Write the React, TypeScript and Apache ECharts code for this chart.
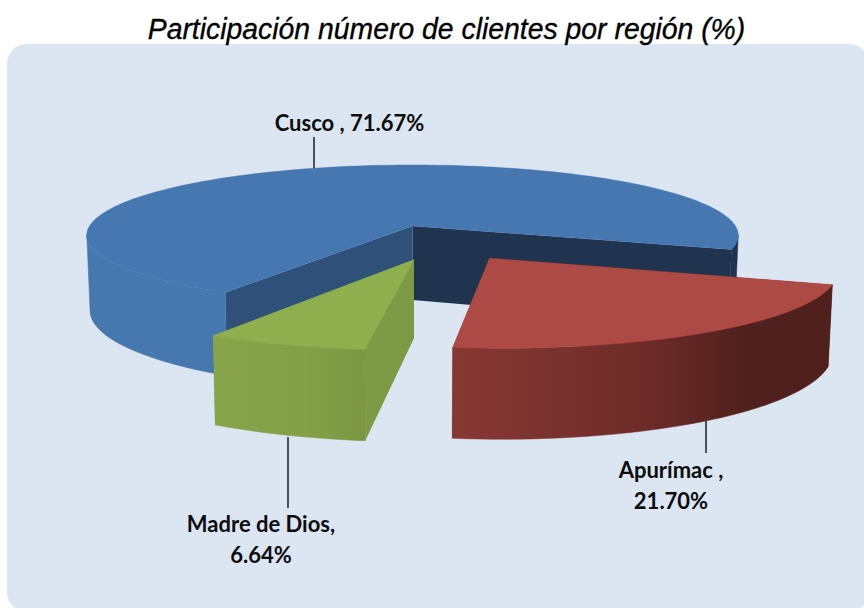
import React, { useEffect, useRef } from "react";
import * as echarts from "echarts";

const TITLE = "Participación número de clientes por región (%)";
const regions = ["Cusco", "Apurímac", "Madre de Dios"];
const shares = [71.67, 21.7, 6.64];
const labelTexts = ["Cusco , 71.67%", "Apurímac ,\n21.70%", "Madre de Dios,\n6.64%"];

// Projection of the tilted pie (unit circle -> screen, with perspective)
const CX = 412.5, CY = 226, A = 323, B = 69, PERSP = 0.13, H = 74, BOTTOM_X = 0.99;
const START_DEG = 19; // Apurímac's first edge; slices go clockwise on screen
const explode: Record<string, [number, number]> = {
  Cusco: [0, 0],
  "Apurímac": [0.225, 0.44],
  "Madre de Dios": [0.004, 0.46],
};
// slice start angles: Apurímac, Madre de Dios, then Cusco round the back
const drawOrderForAngles = ["Apurímac", "Madre de Dios", "Cusco"];

const grad = (stops: [number, string][]) =>
  new echarts.graphic.LinearGradient(0, 0, 1, 0, stops.map(([offset, color]) => ({ offset, color })));

const looks: Record<string, any> = {
  Cusco: {
    top: "#4777b0",
    wall: "#4777af",
    lastWall: "#20344f",
    sideStart: "#2f5179",
    sideEnd: "#20344f",
  },
  "Apurímac": {
    top: "#ae4a45",
    wall: grad([[0, "#873833"], [0.5, "#6e2c29"], [0.78, "#4f201d"], [1, "#50201d"]]),
    sideStart: "#50201d",
    sideEnd: "#873833",
  },
  "Madre de Dios": {
    top: "#8fae4e",
    wall: grad([[0, "#88a44a"], [0.6, "#84a048"], [1, "#7c9642"]]),
    sideStart: "#7e9a46",
    sideEnd: "#88a44a",
  },
};

const labelPlaces: Record<string, { x: number; y: number; line: number[] }> = {
  Cusco: { x: 349.5, y: 122, line: [314, 137, 314, 169] },
  "Apurímac": { x: 671, y: 485, line: [706, 421, 706, 453] },
  "Madre de Dios": { x: 261, y: 539, line: [288, 437, 288, 508] },
};

function project(X: number, Y: number, bottom: boolean): number[] {
  const w = 1 - PERSP * Y;
  const x = (A * X) / w;
  const y = (B * Y) / w;
  return bottom ? [CX + x * BOTTOM_X, CY + y + H / w] : [CX + x, CY + y];
}

function angleRange(name: string): [number, number] {
  const total = shares.reduce((s, v) => s + v, 0);
  let a = START_DEG;
  for (const n of drawOrderForAngles) {
    const sweep = (shares[regions.indexOf(n)] / total) * 360;
    if (n === name) return [a, a + sweep];
    a += sweep;
  }
  return [a, a];
}

function renderSlice(_params: any, api: any) {
  const name = regions[api.value(0)];
  const [a0, a1] = angleRange(name);
  const [ex, ey] = explode[name];
  const look = looks[name];
  const rim = (deg: number, bottom: boolean) => {
    const r = (deg * Math.PI) / 180;
    return project(ex + Math.cos(r), ey + Math.sin(r), bottom);
  };
  const topArc: number[][] = [];
  const steps = Math.ceil((a1 - a0) / 2);
  const visibleRuns: number[][] = [];
  let run: number[] | null = null;
  for (let i = 0; i <= steps; i++) {
    const d = a0 + ((a1 - a0) * i) / steps;
    topArc.push(rim(d, false));
    if (Math.sin((d * Math.PI) / 180) >= PERSP * 0.8) {
      if (!run) {
        run = [];
        visibleRuns.push(run);
      }
      run.push(d);
    } else {
      run = null;
    }
  }
  const tipT = project(ex, ey, false);
  const tipB = project(ex, ey, true);
  const walls = visibleRuns.map((degs, i) => ({
    type: "polygon",
    shape: { points: [...degs.map((d) => rim(d, false)), ...degs.slice().reverse().map((d) => rim(d, true))] },
    style: {
      fill: i > 0 && look.lastWall ? look.lastWall : look.wall,
      stroke: i > 0 && look.lastWall ? look.lastWall : look.wall,
      lineWidth: 0.5,
    },
  }));
  const children: any[] = [
    { type: "polygon", shape: { points: [tipT, rim(a1, false), rim(a1, true), tipB] }, style: { fill: look.sideEnd } },
    { type: "polygon", shape: { points: [tipT, rim(a0, false), rim(a0, true), tipB] }, style: { fill: look.sideStart } },
    ...walls,
    { type: "polygon", shape: { points: [tipT, ...topArc] }, style: { fill: look.top, stroke: look.top, lineWidth: 0.4 } },
  ];
  return { type: "group", children };
}

function renderLabel(_params: any, api: any) {
  const idx = api.value(0);
  const name = regions[idx];
  const p = labelPlaces[name];
  return {
    type: "group",
    children: [
      {
        type: "line",
        shape: { x1: p.line[0], y1: p.line[1], x2: p.line[2], y2: p.line[3] },
        style: { stroke: "#000000", lineWidth: 1.3 },
      },
      {
        type: "text",
        x: p.x,
        y: p.y,
        style: {
          text: labelTexts[idx],
          fill: "#0d0d0d",
          font: "bold 22px Lato",
          lineHeight: 31,
          align: "center",
          verticalAlign: "middle",
        },
      },
    ],
  };
}

export default function App() {
  const ref = useRef<HTMLDivElement>(null);
  useEffect(() => {
    document.body.style.margin = "0";
    const chart = echarts.init(ref.current!, undefined, { renderer: "svg" });
    chart.setOption({
      animation: false,
      backgroundColor: "#ffffff",
      graphic: [
        {
          type: "rect",
          z: -1,
          shape: { x: 7, y: 44, width: 862, height: 568, r: 20 },
          style: { fill: "#dce6f2" },
        },
        {
          type: "text",
          x: 446.5,
          y: 29,
          scaleX: 0.946,
          style: {
            text: TITLE,
            fill: "#000000",
            stroke: "#000000",
            lineWidth: 0.35,
            font: "italic 30px 'Liberation Sans'",
            align: "center",
            verticalAlign: "middle",
          },
        },
      ],
      series: [
        {
          type: "custom",
          coordinateSystem: "none",
          silent: true,
          renderItem: renderSlice,
          data: regions.map((_, i) => [i, shares[i]]),
        },
        {
          type: "custom",
          coordinateSystem: "none",
          silent: true,
          z: 1,
          renderItem: renderLabel,
          data: regions.map((_, i) => [i, shares[i]]),
        },
      ],
    });
    return () => chart.dispose();
  }, []);
  return <div ref={ref} style={{ width: 864, height: 608 }} />;
}
